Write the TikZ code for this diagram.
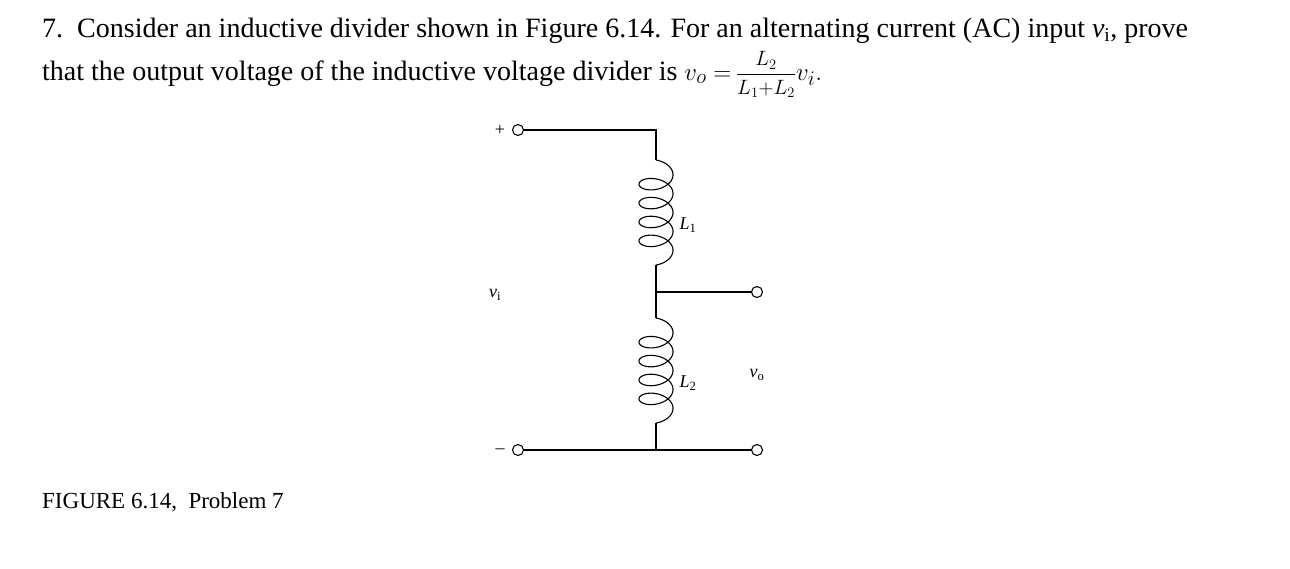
\documentclass[tikz,border=0pt]{standalone}
\usepackage{amsmath}
\usepackage{fontspec}
\setmainfont{Liberation Serif}
\newcommand{\myeq}{\mbox{$v_o=$\,}\mbox{\fontsize{20}{22}\selectfont$\dfrac{L_2}{L_1{+}L_2}$}\mbox{$v_i.$}}
\begin{document}
\begin{tikzpicture}[x=1pt,y=-1pt,
  term/.style={circle,draw,line width=1.1pt,minimum size=11pt,inner sep=0pt,fill=white},
  wire/.style={line width=1.1pt},
  lbl/.style={inner sep=0pt,font=\fontsize{18}{20}\selectfont}]
\useasboundingbox (0,0) rectangle (1290,568);
\node[anchor=base west,inner sep=0pt,font=\fontsize{28}{32}\selectfont] (t1) at (42,37) {7.\ \ Consider an inductive divider shown in Figure 6.14. For an alternating current (AC) input \textit{v}\textsubscript{i}, prove};
\node[anchor=base west,inner sep=0pt,font=\fontsize{28}{32}\selectfont] (t2) at (42,80) {that the output voltage of the inductive voltage divider is \myeq};
\node[anchor=base west,inner sep=0pt,font=\fontsize{23}{26}\selectfont] (cap) at (42,508) {FIGURE 6.14,\ \ Problem 7};
\node[term] (tp) at (518,130) {};
\node[term] (tm) at (518,450) {};
\node[term] (to) at (757,292) {};
\node[term] (tb) at (757,450) {};
\coordinate (c1) at (656,130);
\coordinate (l1t) at (656,160);
\coordinate (l1b) at (656,265);
\coordinate (j) at (656,292);
\coordinate (l2t) at (656,318);
\coordinate (l2b) at (656,423);
\coordinate (c2) at (656,450);
\draw[wire] (tp) -- (c1) -- (l1t);
\draw[wire] plot[domain=0:1620,samples=400,smooth] ({656+17*sin(\x)},{160+18.9*(\x/360)+10*(1-cos(\x))});
\draw[wire] (l1b) -- (l2t);
\draw[wire] (j) -- (to);
\draw[wire] plot[domain=0:1620,samples=400,smooth] ({656+17*sin(\x)},{318+18.9*(\x/360)+10*(1-cos(\x))});
\draw[wire] (l2b) -- (c2);
\draw[wire] (tm) -- (c2) -- (tb);
\node[lbl] (plus) at (500,130) {+};
\node[lbl] (minus) at (500,451) {–};
\node[lbl] (L1) at (688,225) {\textit{L}\textsubscript{1}};
\node[lbl] (L2) at (688,383) {\textit{L}\textsubscript{2}};
\node[lbl] (vi) at (495,295) {\textit{v}\textsubscript{i}};
\node[lbl] (vo) at (757,375) {\textit{v}\textsubscript{o}};
\end{tikzpicture}
\end{document}
